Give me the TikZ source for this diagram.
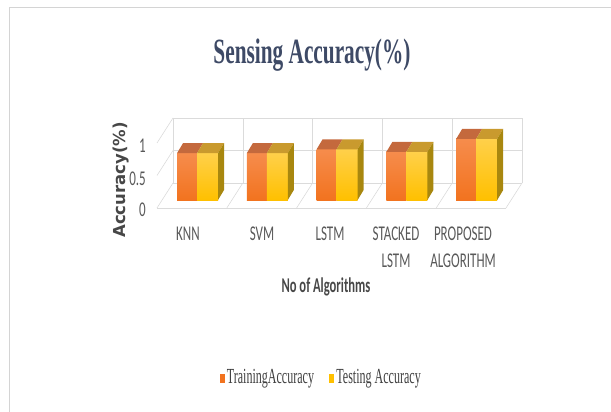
\documentclass[tikz,border=0pt]{standalone}
\usepackage{fontspec}
\setmainfont{Liberation Serif}
\newfontfamily\headfont[FakeStretch=0.6]{Liberation Serif}
\newfontfamily\keyfont[FakeStretch=0.56]{Liberation Serif}
\newfontfamily\catfont[FakeStretch=0.62]{Carlito}
\newfontfamily\xtitlefont[FakeStretch=0.6]{Carlito}
\newfontfamily\ytitlefont{DejaVu Sans}
\usetikzlibrary{positioning}

\definecolor{trainfront}{HTML}{F2731F}
\definecolor{trainlight}{HTML}{F68C4C}
\definecolor{traintop}{HTML}{C4693D}
\definecolor{testfront}{HTML}{FFC000}
\definecolor{testlight}{HTML}{FFD04A}
\definecolor{testtop}{HTML}{C99A2E}
\definecolor{testside}{HTML}{A8870F}
\definecolor{headblue}{HTML}{3E4A66}

\begin{document}
\begin{tikzpicture}[
  x=1pt, y=-1pt,
  grid/.style={draw=black!14, line width=0.6pt},
  frameline/.style={draw=black!17, line width=1pt},
  head/.style={font=\headfont\bfseries\fontsize{35.5}{38}\selectfont, text=headblue, anchor=base, inner sep=0pt},
  ticklbl/.style={font=\catfont\fontsize{21}{23}\selectfont, text=black!65, anchor=east, inner sep=0pt},
  catlbl/.style={font=\catfont\fontsize{21}{27}\selectfont, text=black!65, align=center, anchor=north, inner sep=0pt},
  axistitle/.style={text=black!72, inner sep=0pt},
  keybox/.style={minimum width=5pt, minimum height=9pt, inner sep=0pt},
  keytext/.style={font=\keyfont\fontsize{21.5}{23}\selectfont, text=black!75, inner sep=0pt},
  trainface/.style={top color=trainlight, bottom color=trainfront},
  testface/.style={top color=testlight, bottom color=testfront},
]
\useasboundingbox (0,0) rectangle (611,412);
\draw[frameline] (9,412) |- (611,8);

\node[head] (title) at (312,64) {Sensing Accuracy(\%)};

% walls and floor
\foreach \v in {0,0.5,1}
  \draw[grid] (173,{183-65*\v}) -- (522,{183-65*\v});
\foreach \k in {0,...,5}
  \draw[grid] ({173+69.8*\k},183) -- ({173+69.8*\k},118);
\foreach \v in {0.5,1}
  \draw[grid] (157,{208-65*\v}) -- (173,{183-65*\v});
\foreach \k in {0,...,5}
  \draw[grid] ({157+69.8*\k},208) -- ({173+69.8*\k},183);
\draw[grid] (157,208) -- (506,208);

% columns
\foreach \v [count=\i from 0] in {0.72,0.72,0.78,0.74,0.94} {
  \pgfmathsetmacro\L{177+69.8*\i}
  \pgfmathsetmacro\T{200-65*\v}
  \shade[trainface] (\L,200) rectangle ({\L+20},\T);
  \fill[traintop] (\L,\T) -- ++(20,0) -- ++(6,-10) -- ++(-20,0) -- cycle;
  \shade[testface] ({\L+20},200) rectangle ({\L+41},\T);
  \fill[testtop] ({\L+20},\T) -- ++(21,0) -- ++(6,-10) -- ++(-21,0) -- cycle;
  \fill[testside] ({\L+41},200) -- ({\L+41},\T) -- ++(6,-10) -- ++(0,{65*\v}) -- cycle;
}

\node[ticklbl] (t1) at (146,146) {1};
\node[ticklbl] (t05) at (146,179) {0.5};
\node[ticklbl] (t0) at (146,210) {0};
\node[axistitle, rotate=90, font=\ytitlefont\bfseries\fontsize{16.5}{18}\selectfont] (ytitle) at (121,180) {Accuracy(\%)};

\node[catlbl] (knn) at (188,227) {KNN};
\node[catlbl] (svm) at (262,227) {SVM};
\node[catlbl] (lstm) at (330,227) {LSTM};
\node[catlbl] (stacked) at (396,227) {STACKED\\LSTM};
\node[catlbl] (proposed) at (463,227) {PROPOSED\\ALGORITHM};

\node[axistitle, anchor=base, font=\xtitlefont\bfseries\fontsize{21}{23}\selectfont] (xtitle) at (326,292) {No of Algorithms};

\node[keybox, fill=trainfront] (keytrain) at (222,378.5) {};
\node[keytext, right=2pt of keytrain] (keytraintext) {TrainingAccuracy};
\node[keybox, fill=testfront] (keytest) at (331.5,378.5) {};
\node[keytext, right=2pt of keytest] (keytesttext) {Testing Accuracy};
\end{tikzpicture}
\end{document}
